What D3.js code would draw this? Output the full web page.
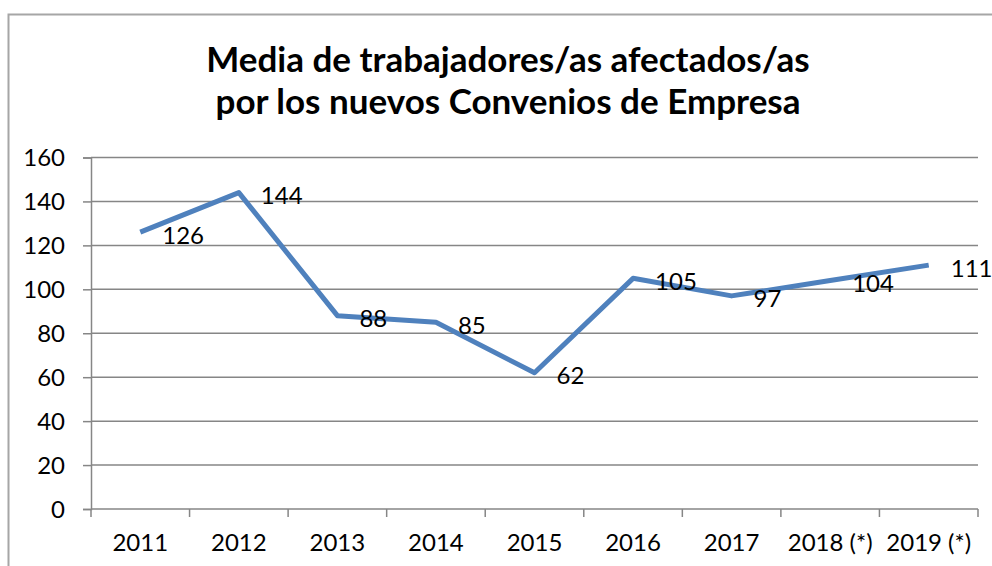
<!DOCTYPE html>
<html lang="es">
<head>
<meta charset="UTF-8">
<title>Media de trabajadores/as afectados/as</title>
<script src="https://d3js.org/d3.v7.min.js"></script>
<style>
  body { margin: 0; background: #fff; font-family: Lato, sans-serif; }
  .grid line { stroke: #868686; stroke-width: 1.5px; }
  .axis path, .axis line { stroke: #868686; stroke-width: 1.5px; }
  .axis text { fill: #000; font-size: 24px; font-family: Lato, sans-serif; }
  .line { fill: none; stroke: #4F81BD; stroke-width: 5px; stroke-linejoin: round; }
  .lbl { font-size: 24px; fill: #000; }
  .title { font-size: 35px; font-weight: bold; fill: #000; }
</style>
</head>
<body>
<svg id="chart" width="992" height="566"></svg>
<script>
// data
const years = ["2011", "2012", "2013", "2014", "2015", "2016", "2017", "2018 (*)", "2019 (*)"];
const values = [126, 144, 88, 85, 62, 105, 97, 104, 111];
const yTicks = [0, 20, 40, 60, 80, 100, 120, 140, 160];
const titleLines = ["Media de trabajadores/as afectados/as", "por los nuevos Convenios de Empresa"];

const svg = d3.select("#chart");
const W = 992, H = 566;
const m = { left: 91, right: 14, top: 157.5, bottom: 57 };

// chart frame
svg.append("rect")
  .attr("x", 8.5).attr("y", 14.5)
  .attr("width", W + 20).attr("height", H + 20)
  .attr("fill", "none").attr("stroke", "#A6A6A6").attr("stroke-width", 2);

// title
svg.selectAll(".title").data(titleLines).enter().append("text")
  .attr("class", "title")
  .attr("x", 508).attr("y", (d, i) => 72 + i * 42)
  .attr("text-anchor", "middle")
  .text(d => d);

const x = d3.scaleBand().domain(years).range([m.left, W - m.right]);
const y = d3.scaleLinear().domain([0, 160]).range([H - m.bottom, m.top]);

// gridlines
svg.append("g").attr("class", "grid")
  .selectAll("line").data(yTicks.slice(1)).enter().append("line")
  .attr("x1", m.left).attr("x2", W - m.right)
  .attr("y1", d => y(d)).attr("y2", d => y(d));

// y axis
svg.append("g").attr("class", "axis")
  .attr("transform", `translate(${m.left},0)`)
  .call(d3.axisLeft(y).tickValues(yTicks).tickSize(8).tickPadding(18))
  .call(g => g.selectAll("text").attr("dy", "0.35em"));

// x axis with ticks on category boundaries
const xAxis = svg.append("g").attr("class", "axis")
  .attr("transform", `translate(0,${y(0)})`);
xAxis.append("line")
  .attr("x1", m.left).attr("x2", W - m.right);
xAxis.selectAll(".tk").data(d3.range(years.length + 1)).enter().append("line")
  .attr("class", "tk")
  .attr("x1", i => m.left + i * x.step()).attr("x2", i => m.left + i * x.step())
  .attr("y1", 0).attr("y2", 8);
xAxis.selectAll("text").data(years).enter().append("text")
  .attr("x", d => x(d) + x.bandwidth() / 2)
  .attr("y", 34)
  .attr("dy", "0.35em")
  .attr("text-anchor", "middle")
  .text(d => d);

// line
const pts = years.map((d, i) => ({ cat: d, v: values[i] }));
const line = d3.line()
  .x(d => x(d.cat) + x.bandwidth() / 2)
  .y(d => y(d.v));
svg.append("path").datum(pts).attr("class", "line").attr("d", line);

// data labels to the right
svg.selectAll(".lbl").data(pts).enter().append("text")
  .attr("class", "lbl")
  .attr("x", d => x(d.cat) + x.bandwidth() / 2 + 22)
  .attr("y", d => y(d.v) + 3)
  .attr("dy", "0.35em")
  .text(d => d.v);
</script>
</body>
</html>
